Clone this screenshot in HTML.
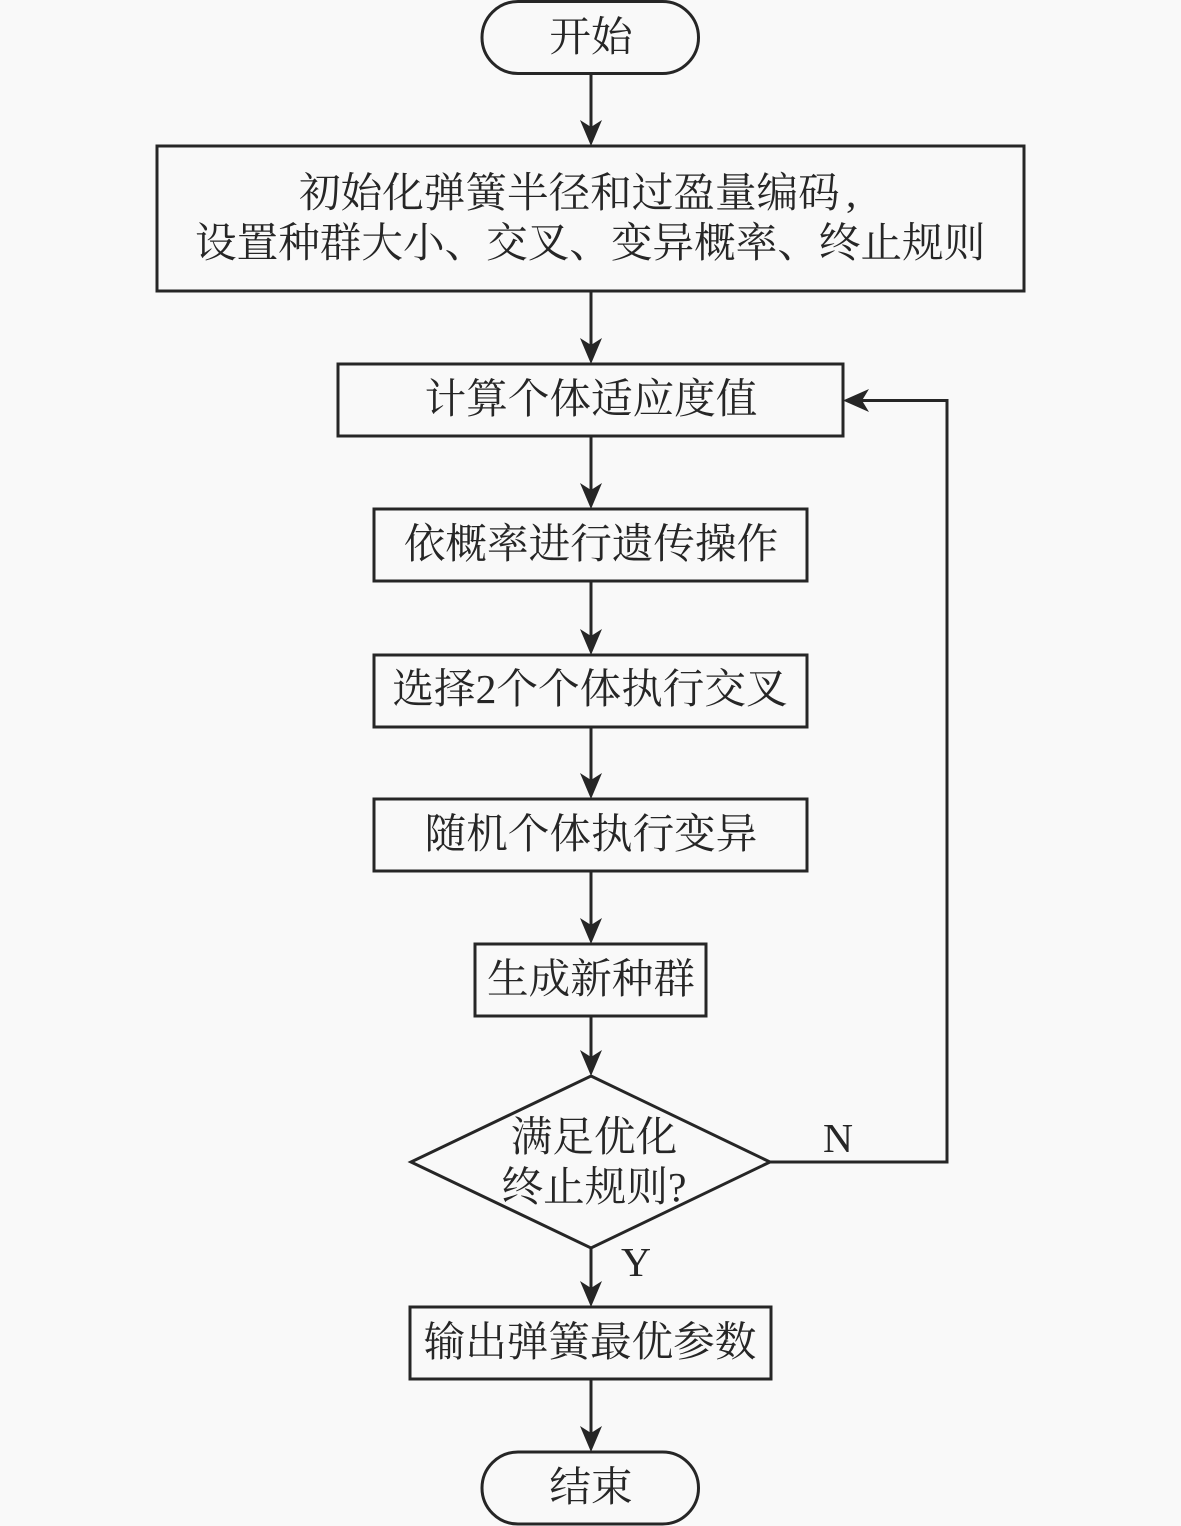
<!DOCTYPE html>
<html lang="zh">
<head>
<meta charset="utf-8">
<style>
html,body{margin:0;padding:0;background:#f9f9f9;}
svg{display:block;}
text{font-family:"Liberation Serif","Noto Serif CJK SC",serif;font-size:41.6px;fill:#262626;}
.s{fill:none;stroke:#262626;stroke-width:3;}
.a{fill:#262626;stroke:none;}
</style>
</head>
<body>
<svg width="1181" height="1526" viewBox="0 0 1181 1526" xmlns="http://www.w3.org/2000/svg">
<rect width="1181" height="1526" fill="#f9f9f9"/>

<rect class="s" x="482" y="1.5" width="216.500" height="72" rx="36" ry="36"/>
<rect class="s" x="157" y="146" width="867" height="145"/>
<rect class="s" x="338" y="364" width="505" height="72"/>
<rect class="s" x="374" y="509" width="433" height="72"/>
<rect class="s" x="374" y="655" width="433" height="72"/>
<rect class="s" x="374" y="799" width="433" height="72"/>
<rect class="s" x="475" y="944" width="231" height="72"/>
<polygon class="s" points="591,1076 770,1162 591,1248 411,1162"/>
<rect class="s" x="410" y="1307" width="361" height="72"/>
<rect class="s" x="482" y="1452" width="216.500" height="72" rx="36" ry="36"/>

<path class="s" d="M591 73V130M591 291V348M591 436V493M591 581V639M591 727V783M591 871V928M591 1016V1060M591 1248V1291M591 1379V1436"/>
<path class="s" d="M770 1162H947V400.500H859"/>

<path class="a" d="M591 146L580 120L591 127L602 120Z"/>
<path class="a" d="M591 364L580 338L591 345L602 338Z"/>
<path class="a" d="M591 509L580 483L591 490L602 483Z"/>
<path class="a" d="M591 655L580 629L591 636L602 629Z"/>
<path class="a" d="M591 799L580 773L591 780L602 773Z"/>
<path class="a" d="M591 944L580 918L591 925L602 918Z"/>
<path class="a" d="M591 1076L580 1050L591 1057L602 1050Z"/>
<path class="a" d="M591 1307L580 1281L591 1288L602 1281Z"/>
<path class="a" d="M591 1452L580 1426L591 1433L602 1426Z"/>
<path class="a" d="M843 400.500L869 389L862 400.500L869 412Z"/>

<text x="591" y="51" text-anchor="middle">开始</text>
<text x="299" y="207">初始化弹簧半径和过盈量编码</text>
<text x="846" y="207">,</text>
<text x="195" y="257">设置种群大小、交叉、变异概率、终止规则</text>
<text x="591" y="413" text-anchor="middle">计算个体适应度值</text>
<text x="591" y="558" text-anchor="middle">依概率进行遗传操作</text>
<text x="590" y="703" text-anchor="middle">选择2个个体执行交叉</text>
<text x="591" y="848" text-anchor="middle">随机个体执行变异</text>
<text x="591" y="993" text-anchor="middle">生成新种群</text>
<text x="594" y="1151" text-anchor="middle">满足优化</text>
<text x="594" y="1201" text-anchor="middle">终止规则?</text>
<text x="590" y="1356" text-anchor="middle">输出弹簧最优参数</text>
<text x="591" y="1501" text-anchor="middle">结束</text>
<text x="823" y="1152">N</text>
<text x="621" y="1276">Y</text>
</svg>
</body>
</html>
